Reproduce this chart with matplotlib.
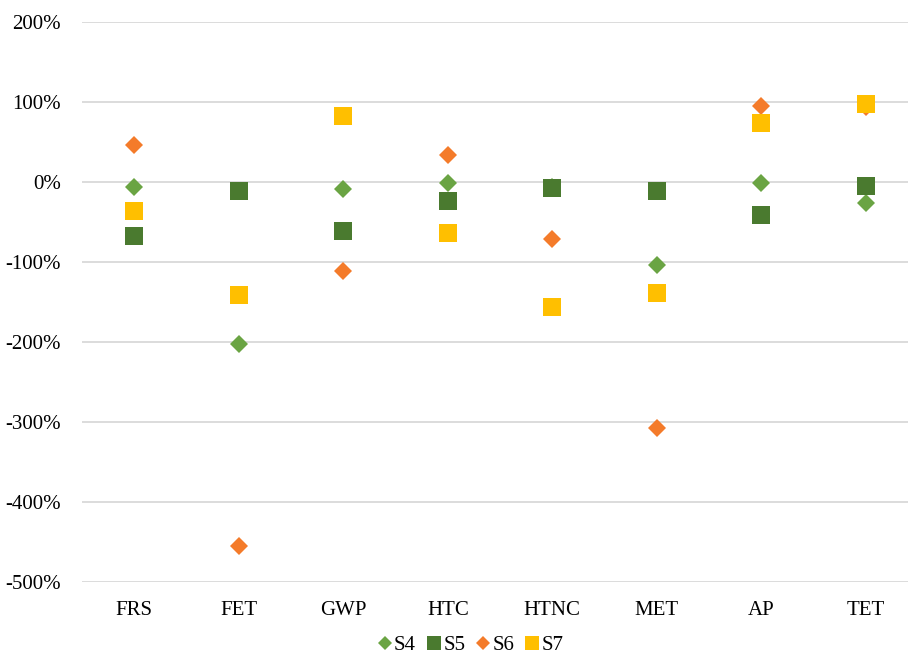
import numpy as np
import matplotlib.pyplot as plt
from matplotlib.ticker import FuncFormatter

plt.rcParams['font.family'] = ['Liberation Serif', 'DejaVu Serif']

categorias = ["FRS", "FET", "GWP", "HTC", "HTNC", "MET", "AP", "TET"]

# variacion porcentual de cada escenario por categoria de impacto
S4 = [-7, -203, -9, -2, -6, -104, -1, -27]
S5 = [-68, -12, -61, -24, -8, -11, -41, -5]
S6 = [46, -455, -112, 34, -71, -307, 95, 94]
S7 = [-37, -142, 82, -64, -157, -139, 73, 97]

series = [
    ("S4", S4, "D", 9.6, "#6AA443"),
    ("S5", S5, "s", 13.5, "#4A7A2F"),
    ("S6", S6, "D", 9.6, "#F47B2A"),
    ("S7", S7, "s", 13.5, "#FFBF00"),
]

fig = plt.figure(figsize=(9.08, 6.54), dpi=100)
ax = fig.add_axes([82/908, 72/654, 836/908, 560.3/654])

x = np.arange(len(categorias))
for nombre, vals, mk, ms, col in series:
    ax.plot(x, vals, linestyle="none", marker=mk, markersize=ms,
            color=col, markeredgewidth=0, label=nombre, zorder=3)

ax.set_xlim(-0.5, len(categorias) - 0.5)
ax.set_ylim(-500, 200)
ax.set_yticks(np.arange(-500, 201, 100))
ax.yaxis.set_major_formatter(FuncFormatter(lambda v, p: f"{int(v)}%"))
ax.set_xticks(x)
ax.set_xticklabels(categorias)
ax.tick_params(axis="both", length=0, labelsize=15, colors="black")
ax.tick_params(axis="x", pad=14)
ax.tick_params(axis="y", pad=15)
ax.grid(axis="y", color="#D9D9D9", linewidth=1.3)
for s in ax.spines.values():
    s.set_visible(False)

leg = fig.legend(loc="lower center", bbox_to_anchor=(0.518, -0.021), ncol=4,
                 frameon=False, fontsize=15, handlelength=0.7, borderpad=0.1,
                 handletextpad=0.1, columnspacing=0.5, markerscale=0.72)

fig.savefig("out.png", dpi=100)
